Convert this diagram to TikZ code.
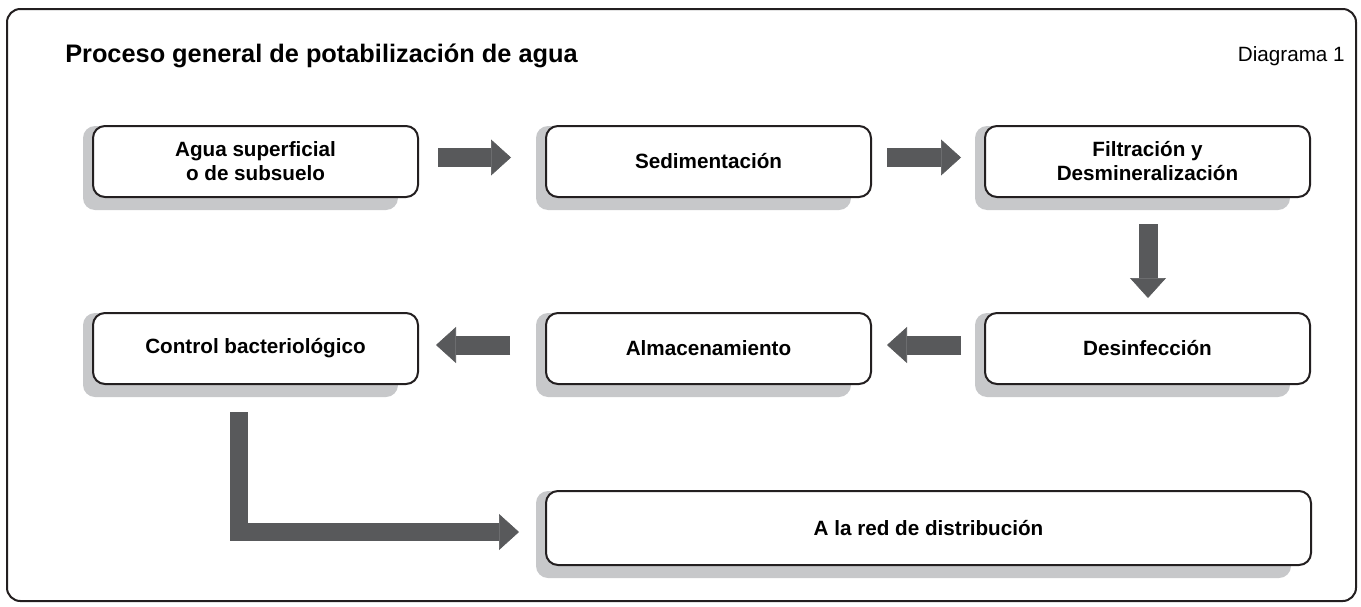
\documentclass[tikz,border=0pt]{standalone}
\usepackage{fontspec}
\setmainfont{Liberation Sans}
\usetikzlibrary{arrows.meta,calc,backgrounds}
\definecolor{boxline}{HTML}{231F20}
\definecolor{shadowgray}{HTML}{C7C8CA}
\definecolor{arrowgray}{HTML}{58595B}

\begin{document}
\begin{tikzpicture}[
  x=0.75pt, y=-0.75pt,
  stage/.style = {draw=boxline, line width=1.5pt, fill=white, rounded corners=9pt,
    align=center, inner sep=0pt, minimum width=243.75pt, minimum height=53.25pt,
    font=\bfseries\fontsize{15.5}{18}\selectfont},
  flow/.style = {draw=arrowgray, line width=14.25pt,
    -{Triangle[length=15pt, width=27pt, line width=0.5pt]}},
  caption/.style = {inner sep=0pt}
  ]
  \useasboundingbox (0,0) rectangle (1361,607);
  \draw[boxline, line width=1.5pt, rounded corners=10pt] (7,9) rectangle (1356,601);

  \node[caption, anchor=base west, font=\bfseries\fontsize{19}{23}\selectfont] (title) at (65,62) {Proceso general de potabilización de agua};
  \node[caption, anchor=base east, font=\fontsize{15.5}{18}\selectfont] (number) at (1345,61) {Diagrama 1};

  \node[stage] (b1) at (255.5,161.5) {Agua superficial\\o de subsuelo};
  \node[stage] (b2) at (708.5,161.5) {Sedimentación};
  \node[stage] (b3) at (1147.5,161.5) {Filtración y\\Desmineralización};
  \node[stage] (b4) at (1147.5,348.5) {Desinfección};
  \node[stage] (b5) at (708.5,348.5) {Almacenamiento};
  \node[stage] (b6) at (255.5,348.5) {Control bacteriológico};
  \node[stage, minimum width=573.75pt, minimum height=55.5pt] (b7) at (928.5,528) {A la red de distribución};

  \begin{scope}[on background layer]
    \foreach \n in {b1,b2,b3,b4,b5,b6,b7}
      \fill[shadowgray, rounded corners=9pt] ($(\n.north west)+(-9,1)$) rectangle ($(\n.south east)+(-21,12)$);
  \end{scope}

  \draw[flow] ($(b1.east)+(19,-4)$) -- ($(b2.west)+(-34,-4)$);
  \draw[flow] ($(b2.east)+(15,-4)$) -- ($(b3.west)+(-23,-4)$);
  \draw[flow] ($(b3.south)+(0.5,26)$) -- ($(b4.north)+(0.5,-14)$);
  \draw[flow] ($(b4.west)+(-23,-3.5)$) -- ($(b5.east)+(15,-3.5)$);
  \draw[flow] ($(b5.west)+(-35,-3.5)$) -- ($(b6.east)+(17,-3.5)$);
  \draw[flow, line width=13.5pt] ($(b6.south)+(-16.5,27)$) |- ($(b7.west)+(-26,4)$);

\end{tikzpicture}
\end{document}
